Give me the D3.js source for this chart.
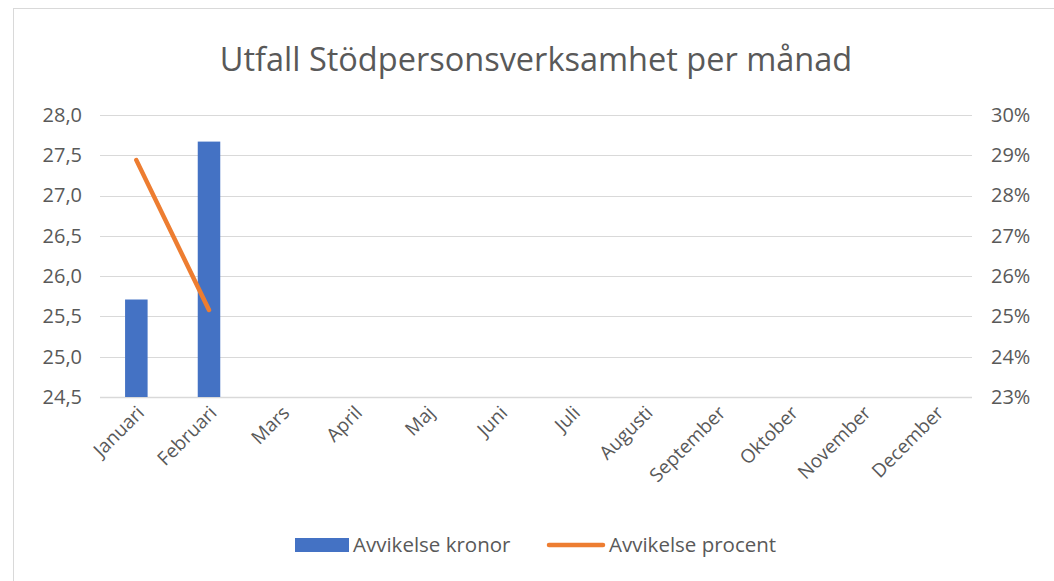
<!DOCTYPE html>
<html>
<head>
<meta charset="utf-8">
<script src="https://cdn.jsdelivr.net/npm/d3@7"></script>
<style>
  body { margin: 0; background: #fff; }
  text { font-family: "Open Sans", sans-serif; fill: #595959; }
</style>
</head>
<body>
<svg id="chart"></svg>
<script>
var months = ["Januari", "Februari", "Mars", "April", "Maj", "Juni", "Juli",
    "Augusti", "September", "Oktober", "November", "December"];
var kronor = [25.71, 27.67];          // Avvikelse kronor (left axis)
var procent = [0.2888, 0.2516];       // Avvikelse procent (right axis)
var leftTicks = [24.5, 25, 25.5, 26, 26.5, 27, 27.5, 28];
var rightTicks = [0.23, 0.24, 0.25, 0.26, 0.27, 0.28, 0.29, 0.30];

var width = 1054, height = 581;
var margin = { top: 115, left: 100, right: 82, bottom: 184 };

var svg = d3.select("#chart")
    .attr("width", width)
    .attr("height", height);

// chart frame
svg.append("rect")
    .attr("x", 13.5).attr("y", 8.5)
    .attr("width", width).attr("height", height)
    .attr("fill", "#fff")
    .attr("stroke", "#d9d9d9");

var x = d3.scaleBand()
    .domain(months)
    .range([margin.left, width - margin.right]);

var yLeft = d3.scaleLinear()
    .domain([24.5, 28])
    .range([height - margin.bottom, margin.top]);

var yRight = d3.scaleLinear()
    .domain([0.23, 0.30])
    .range([height - margin.bottom, margin.top]);

// gridlines
svg.append("g").selectAll("line")
    .data(leftTicks)
    .enter().append("line")
    .attr("x1", margin.left).attr("x2", width - margin.right)
    .attr("y1", function (d) { return Math.round(yLeft(d)) + 0.5; })
    .attr("y2", function (d) { return Math.round(yLeft(d)) + 0.5; })
    .attr("stroke", "#d9d9d9")
    .attr("stroke-width", function (d, i) { return i === 0 ? 1.5 : 1; });

// left axis
var fmtLeft = function (d) { return d3.format(".1f")(d).replace(".", ","); };
var gLeft = svg.append("g")
    .attr("transform", "translate(" + (margin.left - 18) + ",0)")
    .call(d3.axisLeft(yLeft).tickValues(leftTicks).tickFormat(fmtLeft).tickSize(0).tickPadding(0));
gLeft.select(".domain").remove();
gLeft.selectAll("text").style("font-size", "20px").attr("fill", "#595959");

// right axis
var gRight = svg.append("g")
    .attr("transform", "translate(" + (width - margin.right + 19) + ",0)")
    .call(d3.axisRight(yRight).tickValues(rightTicks).tickFormat(d3.format(".0%")).tickSize(0).tickPadding(0));
gRight.select(".domain").remove();
gRight.selectAll("text").style("font-size", "20px").attr("fill", "#595959");

// bars
var barW = x.bandwidth() * 0.31;
svg.append("g").selectAll("rect")
    .data(kronor)
    .enter().append("rect")
    .attr("x", function (d, i) { return x(months[i]) + x.bandwidth() / 2 - barW / 2; })
    .attr("y", function (d) { return yLeft(d); })
    .attr("width", barW)
    .attr("height", function (d) { return yLeft(24.5) - yLeft(d); })
    .attr("fill", "#4472c4");

// line
var line = d3.line()
    .x(function (d, i) { return x(months[i]) + x.bandwidth() / 2; })
    .y(function (d) { return yRight(d); });
svg.append("path")
    .datum(procent)
    .attr("d", line)
    .attr("fill", "none")
    .attr("stroke", "#ed7d31")
    .attr("stroke-width", 4.5)
    .attr("stroke-linecap", "round");

// x labels
svg.append("g").selectAll("text")
    .data(months)
    .enter().append("text")
    .attr("transform", function (d) {
        return "translate(" + (x(d) + x.bandwidth() / 2 + 9) + "," + (height - margin.bottom + 17) + ") rotate(-45)";
    })
    .attr("text-anchor", "end")
    .style("font-size", "19px")
    .text(function (d) { return d; });

// title
svg.append("text")
    .attr("x", 536).attr("y", 71)
    .attr("text-anchor", "middle")
    .style("font-size", "32.5px")
    .text("Utfall Stödpersonsverksamhet per månad");

// legend
var legend = svg.append("g").attr("transform", "translate(0,545)");
legend.append("rect")
    .attr("x", 295).attr("y", -7).attr("width", 54).attr("height", 14)
    .attr("fill", "#4472c4");
legend.append("text")
    .attr("x", 353).attr("y", 7)
    .style("font-size", "20.5px")
    .text("Avvikelse kronor");
legend.append("line")
    .attr("x1", 549).attr("x2", 603).attr("y1", 0).attr("y2", 0)
    .attr("stroke", "#ed7d31").attr("stroke-width", 4.5)
    .attr("stroke-linecap", "round");
legend.append("text")
    .attr("x", 609).attr("y", 7)
    .style("font-size", "20.5px")
    .text("Avvikelse procent");
</script>
</body>
</html>
